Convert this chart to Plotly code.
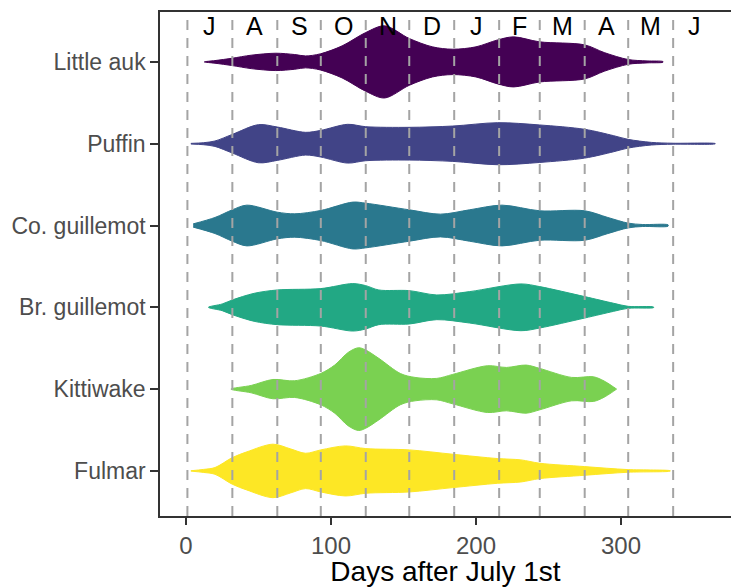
import plotly.graph_objects as go

# Species, bottom to top
species = ["Fulmar", "Kittiwake", "Br. guillemot", "Co. guillemot", "Puffin", "Little auk"]
colors = ["#FDE725", "#7AD151", "#22A884", "#2A788E", "#414487", "#440154"]

# Month boundaries (days after July 1st) and their initials
month_starts = [1, 32, 63, 93, 124, 154, 185, 216, 244, 275, 305, 336, 366]
month_letters = ["J", "A", "S", "O", "N", "D", "J", "F", "M", "A", "M", "J"]

# Violin outlines: day positions and half-widths (category units)
fulmar_days = [3.4, 12, 20, 32, 42, 60, 72, 82.5, 93, 110, 124, 154, 184, 215, 231, 244, 275, 305, 334]
fulmar_w = [.002, .018, .041, .163, .233, .327, .27, .216, .257, .306, .273, .257, .204, .151, .135, .094, .053, .016, .002]

kitti_days = [31, 45, 60, 75, 93, 102.6, 112, 119, 124, 133, 148, 158, 173, 184, 208, 221, 234.6, 244, 266, 281, 288.5, 297]
kitti_w = [0, .045, .118, .102, .192, .294, .45, .506, .478, .376, .19, .143, .131, .18, .286, .265, .294, .253, .143, .151, .098, 0]

brg_days = [15.5, 25, 32, 47, 63, 93, 115, 124, 133, 154, 173, 195.6, 231, 244, 275, 295, 305, 322.5]
brg_w = [0, .041, .09, .171, .212, .229, .29, .265, .212, .204, .151, .192, .286, .253, .131, .049, .012, .004]

cog_days = [5, 20, 32, 42, 63, 75, 93, 115, 124, 154, 175.5, 195.6, 218, 244, 275, 291, 305, 315, 332.5]
cog_w = [.02, .098, .192, .249, .163, .143, .184, .286, .273, .192, .139, .192, .249, .18, .18, .098, .029, .012, .008]

puffin_days = [3.4, 12, 20, 32, 50, 63, 82.5, 93, 111.5, 124, 154, 184, 215, 244, 275, 295, 305, 321, 336, 365]
puffin_w = [.004, .012, .033, .114, .233, .204, .139, .163, .237, .208, .2, .216, .257, .229, .176, .098, .053, .016, .006, .002]

lauk_days = [12.7, 20, 32, 45, 62, 75, 82.5, 92.6, 107.7, 124, 137, 154, 170, 184, 200, 215, 226, 244, 275, 288.5, 305, 318, 329]
lauk_w = [0, .016, .045, .082, .106, .09, .073, .098, .196, .359, .441, .286, .184, .155, .184, .269, .306, .245, .208, .114, .029, .012, .004]

profiles = [
    (fulmar_days, fulmar_w),
    (kitti_days, kitti_w),
    (brg_days, brg_w),
    (cog_days, cog_w),
    (puffin_days, puffin_w),
    (lauk_days, lauk_w),
]

fig = go.Figure()

for i, (name, col, (days, w)) in enumerate(zip(species, colors, profiles)):
    centre = i + 1
    xs = list(days) + list(days[::-1])
    ys = [centre + v for v in w] + [centre - v for v in w[::-1]]
    fig.add_trace(go.Scatter(
        x=xs, y=ys, mode="lines", fill="toself",
        fillcolor=col, line=dict(color=col, width=1, shape="spline", smoothing=0.9),
        name=name, showlegend=False, hoverinfo="skip",
    ))

# Dashed month boundaries drawn over the violins
for d in month_starts[:-1]:
    fig.add_shape(type="line", xref="x", yref="paper", x0=d, x1=d, y0=0, y1=1,
                  line=dict(color="#A4A4A4", width=2, dash="10px,8px"), layer="above")

# Month initials along the top
for k, letter in enumerate(month_letters):
    mid = (month_starts[k] + month_starts[k + 1]) / 2
    fig.add_annotation(x=mid, y=6.44, text=letter, showarrow=False,
                       font=dict(family="Liberation Sans, Arial", size=25, color="black"),
                       xanchor="center", yanchor="middle")

fig.update_layout(
    width=731, height=587,
    margin=dict(l=160, r=0, t=12, b=71),
    plot_bgcolor="white", paper_bgcolor="white",
    font=dict(family="Liberation Sans, Arial"),
    xaxis=dict(
        range=[-17.9, 375.9], tickvals=[0, 100, 200, 300],
        showgrid=False, zeroline=False,
        showline=True, linecolor="#333333", linewidth=1.5, mirror=True,
        ticks="outside", ticklen=7, tickwidth=1.5, tickcolor="#333333",
        tickfont=dict(size=24, color="#4D4D4D"),
        title=dict(text="Days after July 1st", font=dict(size=28, color="black"), standoff=4),
    ),
    yaxis=dict(
        range=[0.449, 6.61], tickvals=[1, 2, 3, 4, 5, 6], ticktext=species,
        showgrid=False, zeroline=False,
        showline=True, linecolor="#333333", linewidth=1.5,
        ticks="outside", ticklen=8, tickwidth=1.5, tickcolor="#333333",
        tickfont=dict(size=23, color="#4D4D4D"),
    ),
)

fig.write_html("out.html")
